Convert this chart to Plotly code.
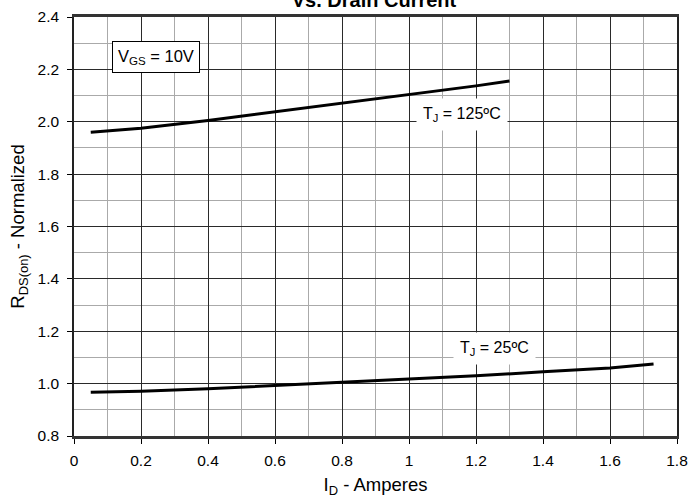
import plotly.graph_objects as go

# Data
id_125 = [0.05, 0.2, 0.4, 0.6, 0.8, 1.0, 1.2, 1.3]
r_125 = [1.96, 1.975, 2.005, 2.038, 2.07, 2.102, 2.137, 2.156]
id_25 = [0.05, 0.2, 0.4, 0.6, 0.8, 1.0, 1.2, 1.4, 1.6, 1.73]
r_25 = [0.967, 0.971, 0.980, 0.992, 1.004, 1.016, 1.030, 1.045, 1.060, 1.075]

x_ticks = [0, 0.2, 0.4, 0.6, 0.8, 1, 1.2, 1.4, 1.6, 1.8]
x_tick_text = ["0", "0.2", "0.4", "0.6", "0.8", "1", "1.2", "1.4", "1.6", "1.8"]
y_ticks = [0.8, 1.0, 1.2, 1.4, 1.6, 1.8, 2.0, 2.2, 2.4]
y_tick_text = ["0.8", "1.0", "1.2", "1.4", "1.6", "1.8", "2.0", "2.2", "2.4"]

FONT = "Liberation Sans, Arial, sans-serif"

fig = go.Figure()
fig.add_trace(go.Scatter(x=id_125, y=r_125, mode="lines",
                         line=dict(color="black", width=3), showlegend=False))
fig.add_trace(go.Scatter(x=id_25, y=r_25, mode="lines",
                         line=dict(color="black", width=3), showlegend=False))

fig.update_layout(
    width=691, height=498,
    margin=dict(l=74, r=14, t=17, b=62, autoexpand=False),
    paper_bgcolor="white", plot_bgcolor="white",
    font=dict(family=FONT, size=15, color="black"),
    title=dict(text="<b>Vs. Drain Current</b>", x=0.4975, xref="paper", xanchor="center",
               y=1.0, yref="container", yanchor="middle",
               font=dict(size=20, family=FONT, color="black")),
)

fig.update_xaxes(
    range=[0, 1.8], tickvals=x_ticks, ticktext=x_tick_text,
    tickfont=dict(size=15.5), automargin=False,
    showgrid=True, gridcolor="#2a2a2a", gridwidth=1,
    minor=dict(dtick=0.1, tick0=0, showgrid=True, gridcolor="#aaaaaa", gridwidth=1),
    showline=True, linecolor="#333333", linewidth=2.5, mirror=True,
    ticks="outside", ticklen=5, tickcolor="black",
    ticklabelstandoff=4,
    zeroline=False,
    title=dict(text="I<sub>D</sub> - Amperes", font=dict(size=18.5, family=FONT), standoff=11),
)
fig.update_yaxes(
    range=[0.8, 2.4], tickvals=y_ticks, ticktext=y_tick_text,
    tickfont=dict(size=15.5), automargin=False,
    showgrid=True, gridcolor="#2a2a2a", gridwidth=1,
    minor=dict(dtick=0.1, tick0=0.8, showgrid=True, gridcolor="#aaaaaa", gridwidth=1),
    showline=True, linecolor="#222222", linewidth=1.5, mirror=True,
    ticks="outside", ticklen=5, tickcolor="black",
    ticklabelstandoff=5,
    zeroline=False,
    title=dict(text="R<sub>DS(on)</sub> - Normalized",
               font=dict(size=18.5, family=FONT), standoff=8),
)

fig.add_annotation(x=0.113, y=2.247, xref="x", yref="y", xanchor="left", yanchor="middle",
                   text="V<sub>GS</sub> = 10V", showarrow=False,
                   font=dict(size=16.5, family=FONT), bgcolor="white",
                   bordercolor="black", borderwidth=1, borderpad=5)
fig.add_annotation(x=1.158, y=2.026, xref="x", yref="y",
                   text="T<sub>J</sub> = 125ºC", showarrow=False,
                   font=dict(size=16, family=FONT), bgcolor="white", borderpad=6)
fig.add_annotation(x=1.254, y=1.136, xref="x", yref="y",
                   text="T<sub>J</sub> = 25ºC", showarrow=False,
                   font=dict(size=16, family=FONT), bgcolor="white", borderpad=6)

fig.write_html("out.html")
